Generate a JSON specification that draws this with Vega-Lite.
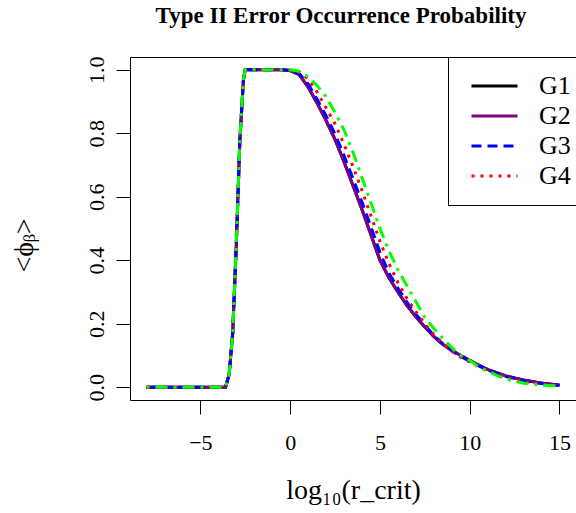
{
  "$schema": "https://vega.github.io/schema/vega-lite/v6.json",
  "autosize": {"type": "none"},
  "width": 446,
  "height": 343,
  "padding": {"left": 130, "top": 57, "right": 0, "bottom": 113},
  "background": "white",
  "config": {
    "font": "Liberation Serif",
    "view": {"stroke": "black", "strokeWidth": 1},
    "axis": {"grid": false, "domain": false, "tickColor": "black", "tickSize": 14, "tickWidth": 1, "labelColor": "black", "titleColor": "black", "labelFont": "Liberation Serif", "titleFont": "Liberation Serif", "titleFontWeight": "normal"}
  },
  "title": {"text": "Type II Error Occurrence Probability", "font": "Liberation Serif", "fontSize": 23, "fontWeight": "bold", "anchor": "middle", "frame": "group", "baseline": "alphabetic", "offset": 10, "dx": -12, "color": "black"},
  "data": {"values": [
    {"x": -8, "G1": 0, "G2": 0, "G3": 0, "G4": 0, "G5": 0},
    {"x": -7, "G1": 0, "G2": 0, "G3": 0, "G4": 0, "G5": 0},
    {"x": -6, "G1": 0, "G2": 0, "G3": 0, "G4": 0, "G5": 0},
    {"x": -5, "G1": 0, "G2": 0, "G3": 0, "G4": 0, "G5": 0},
    {"x": -4, "G1": 0, "G2": 0, "G3": 0, "G4": 0, "G5": 0},
    {"x": -3.6, "G1": 0, "G2": 0, "G3": 0, "G4": 0, "G5": 0},
    {"x": -3.4, "G1": 0.04, "G2": 0.04, "G3": 0.04, "G4": 0.04, "G5": 0.04},
    {"x": -3.2, "G1": 0.17, "G2": 0.17, "G3": 0.17, "G4": 0.17, "G5": 0.17},
    {"x": -3.0, "G1": 0.45, "G2": 0.45, "G3": 0.45, "G4": 0.45, "G5": 0.45},
    {"x": -2.8, "G1": 0.78, "G2": 0.78, "G3": 0.78, "G4": 0.78, "G5": 0.78},
    {"x": -2.6, "G1": 0.97, "G2": 0.97, "G3": 0.97, "G4": 0.97, "G5": 0.97},
    {"x": -2.5, "G1": 1, "G2": 1, "G3": 1, "G4": 1, "G5": 1},
    {"x": -2, "G1": 1, "G2": 1, "G3": 1, "G4": 1, "G5": 1},
    {"x": -1, "G1": 1, "G2": 1, "G3": 1, "G4": 1, "G5": 1},
    {"x": -0.5, "G1": 1, "G2": 1, "G3": 1, "G4": 1, "G5": 1},
    {"x": 0, "G1": 0.997, "G2": 0.997, "G3": 0.998, "G4": 0.999, "G5": 1.0},
    {"x": 0.5, "G1": 0.985, "G2": 0.985, "G3": 0.988, "G4": 0.993, "G5": 0.995},
    {"x": 1, "G1": 0.945, "G2": 0.945, "G3": 0.955, "G4": 0.97, "G5": 0.978},
    {"x": 1.5, "G1": 0.895, "G2": 0.895, "G3": 0.907, "G4": 0.93, "G5": 0.95},
    {"x": 2, "G1": 0.84, "G2": 0.84, "G3": 0.855, "G4": 0.88, "G5": 0.915},
    {"x": 2.5, "G1": 0.78, "G2": 0.78, "G3": 0.797, "G4": 0.83, "G5": 0.865},
    {"x": 3, "G1": 0.71, "G2": 0.71, "G3": 0.73, "G4": 0.765, "G5": 0.81},
    {"x": 3.5, "G1": 0.635, "G2": 0.635, "G3": 0.657, "G4": 0.695, "G5": 0.74},
    {"x": 4, "G1": 0.56, "G2": 0.56, "G3": 0.583, "G4": 0.62, "G5": 0.66},
    {"x": 4.5, "G1": 0.48, "G2": 0.48, "G3": 0.505, "G4": 0.54, "G5": 0.58},
    {"x": 5, "G1": 0.40, "G2": 0.40, "G3": 0.425, "G4": 0.46, "G5": 0.50},
    {"x": 5.5, "G1": 0.345, "G2": 0.345, "G3": 0.36, "G4": 0.39, "G5": 0.43},
    {"x": 6, "G1": 0.30, "G2": 0.30, "G3": 0.312, "G4": 0.33, "G5": 0.37},
    {"x": 6.5, "G1": 0.258, "G2": 0.258, "G3": 0.268, "G4": 0.28, "G5": 0.32},
    {"x": 7, "G1": 0.222, "G2": 0.222, "G3": 0.23, "G4": 0.238, "G5": 0.27},
    {"x": 7.5, "G1": 0.19, "G2": 0.19, "G3": 0.196, "G4": 0.2, "G5": 0.22},
    {"x": 8, "G1": 0.16, "G2": 0.16, "G3": 0.164, "G4": 0.166, "G5": 0.185},
    {"x": 8.5, "G1": 0.135, "G2": 0.135, "G3": 0.137, "G4": 0.138, "G5": 0.155},
    {"x": 9, "G1": 0.117, "G2": 0.117, "G3": 0.115, "G4": 0.114, "G5": 0.125},
    {"x": 9.5, "G1": 0.1, "G2": 0.1, "G3": 0.097, "G4": 0.095, "G5": 0.1},
    {"x": 10, "G1": 0.085, "G2": 0.085, "G3": 0.082, "G4": 0.08, "G5": 0.085},
    {"x": 10.5, "G1": 0.07, "G2": 0.07, "G3": 0.067, "G4": 0.065, "G5": 0.065},
    {"x": 11, "G1": 0.056, "G2": 0.056, "G3": 0.054, "G4": 0.051, "G5": 0.05},
    {"x": 12, "G1": 0.036, "G2": 0.036, "G3": 0.034, "G4": 0.031, "G5": 0.026},
    {"x": 13, "G1": 0.023, "G2": 0.023, "G3": 0.021, "G4": 0.018, "G5": 0.013},
    {"x": 14, "G1": 0.013, "G2": 0.013, "G3": 0.012, "G4": 0.01, "G5": 0.007},
    {"x": 15, "G1": 0.007, "G2": 0.007, "G3": 0.006, "G4": 0.005, "G5": 0.004}
  ]},
  "transform": [{"fold": ["G1", "G2", "G3", "G4", "G5"], "as": ["series", "value"]}],
  "mark": {"type": "line", "strokeWidth": 3, "clip": true},
  "encoding": {
    "x": {"field": "x", "type": "quantitative", "scale": {"domain": [-8.92, 15.92], "nice": false, "zero": false},
      "axis": {"values": [-5, 0, 5, 10, 15], "labelFontSize": 22, "labelPadding": 18, "labelBaseline": "top", "title": "log₁₀(r_crit)", "titleFontSize": 28, "titleX": 223, "titleY": 98, "titleBaseline": "alphabetic", "titleAnchor": null, "titleAlign": "center"}},
    "y": {"field": "value", "type": "quantitative", "scale": {"domain": [-0.04, 1.04], "nice": false, "zero": false},
      "axis": {"values": [0, 0.2, 0.4, 0.6, 0.8, 1.0], "format": ".1f", "labelFontSize": 22, "labelAngle": -90, "labelAlign": "center", "labelBaseline": "bottom", "labelPadding": 8, "title": "<ϕᵦ>", "titleFontSize": 28, "titleAngle": -90, "titleX": -106, "titleY": 188, "titleAlign": "center", "titleBaseline": "middle"}},
    "color": {"field": "series", "type": "nominal",
      "scale": {"domain": ["G1", "G2", "G3", "G4", "G5"], "range": ["#000000", "#800080", "#0000FF", "#FF0000", "#00FF00"]},
      "legend": {"values": ["G1", "G2", "G3", "G4"], "title": null, "orient": "none", "legendX": 318, "legendY": 0, "strokeColor": "black", "fillColor": "white", "padding": 14, "symbolType": "stroke", "symbolSize": 2116, "symbolStrokeWidth": 3, "symbolOffset": 8, "clipHeight": 30, "labelFont": "Liberation Serif", "labelFontSize": 26, "labelOffset": 20, "rowPadding": 0, "labelColor": "black"}},
    "strokeDash": {"field": "series", "type": "nominal",
      "scale": {"domain": ["G1", "G2", "G3", "G4", "G5"], "range": [[1, 0], [1, 0], [10, 6], [3, 6], [3, 6, 12, 6]]},
      "legend": {"values": ["G1", "G2", "G3", "G4"], "title": null, "orient": "none", "legendX": 318, "legendY": 0, "strokeColor": "black", "fillColor": "white", "padding": 14, "symbolType": "stroke", "symbolSize": 2116, "symbolStrokeWidth": 3, "symbolOffset": 8, "clipHeight": 30, "labelFont": "Liberation Serif", "labelFontSize": 26, "labelOffset": 20, "rowPadding": 0, "labelColor": "black"}}
  }
}
